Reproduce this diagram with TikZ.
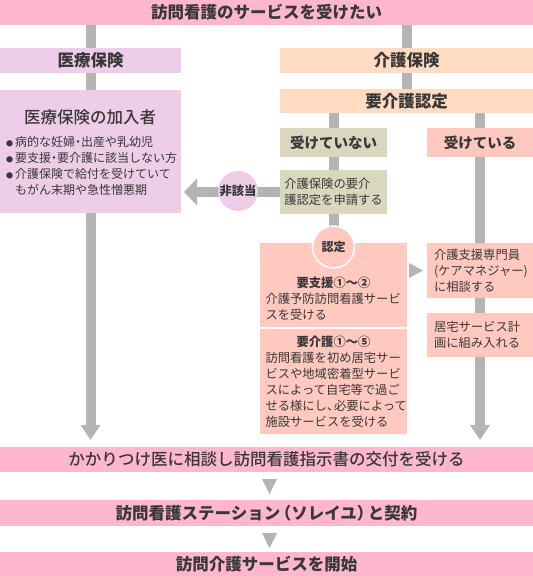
\documentclass[tikz,border=0pt]{standalone}
\usepackage{fontspec}
\setmainfont{Noto Sans CJK JP}
\newfontfamily\medfont{Noto Sans CJK JP Medium}
\usetikzlibrary{arrows.meta}

\definecolor{barpink}{HTML}{FFB7CD}
\definecolor{iryopink}{HTML}{EDCDE8}
\definecolor{kaigopeach}{HTML}{FFDBC1}
\definecolor{nashikhaki}{HTML}{DAD7BF}
\definecolor{arisalmon}{HTML}{FFC9BF}
\definecolor{linegray}{HTML}{B4B4B4}
\definecolor{textgray}{HTML}{383838}

\newcommand{\hfont}{\fontsize{16.5}{20}\selectfont}
\newcommand{\mfont}{\fontsize{14.5}{18}\selectfont}
\newcommand{\sfont}{\fontsize{12.3}{16}\selectfont}
\newcommand{\ndot}{\makebox[6pt][c]{・}}

\begin{document}
\begin{tikzpicture}[x=1pt, y=-1pt, text=textgray,
    bar/.style={fill=barpink, minimum width=533pt, minimum height=25pt, inner sep=0pt, outer sep=0pt},
    box/.style={inner sep=0pt, outer sep=0pt},
    hd/.style={font=\hfont\bfseries},
    txt/.style={font=\sfont, align=left, inner sep=0pt},
    conn/.style={draw=linegray, line width=10pt},
    downtip/.style={-{Triangle[width=19pt,length=15pt]}, shorten >=7pt}]
    \useasboundingbox (0,0) rectangle (533,576);

    % top
    \node[bar, hd] (want) at (266.5,12.5) {訪問看護のサービスを受けたい};
    \node[box, hd, fill=iryopink, minimum width=181pt, minimum height=25pt] (iryo) at (90.5,60.5) {医療保険};
    \node[box, hd, fill=kaigopeach, minimum width=253pt, minimum height=25pt] (kaigo) at (406.5,60.5) {介護保険};
    \node[box, hd, fill=kaigopeach, minimum width=253pt, minimum height=24pt] (nintei) at (406.5,101) {要介護認定};

    % iryo side
    \node[box, fill=iryopink, minimum width=181pt, minimum height=123pt] (kanyu) at (90.5,151.5) {};
    \node[box, font=\hfont\medfont] (kanyutitle) at (90,117) {医療保険の加入者};
    \node[txt, anchor=west, font=\fontsize{12}{16}\selectfont] (kanyulist) at (4,166) {%
        \makebox[11pt][c]{\fontsize{7}{7}\selectfont ●}病的な妊婦\ndot 出産や乳幼児\\
        \makebox[11pt][c]{\fontsize{7}{7}\selectfont ●}要支援\ndot 要介護に該当しない方\\
        \makebox[11pt][c]{\fontsize{7}{7}\selectfont ●}介護保険で給付を受けていて\\
        \hspace*{11pt}もがん末期や急性憎悪期};

    % kaigo side
    \node[box, font=\mfont\bfseries, fill=nashikhaki, minimum width=107pt, minimum height=29pt] (nashi) at (333.5,142.5) {受けていない};
    \node[box, font=\mfont\bfseries, fill=arisalmon, minimum width=106pt, minimum height=29pt] (ari) at (480,142.5) {受けている};
    \node[box, txt, fill=nashikhaki, minimum width=107pt, minimum height=44pt] (shinsei) at (333.5,192) {介護保険の要介\\護認定を申請する};

    \node[box, fill=arisalmon, minimum width=147pt, minimum height=84pt] (shien) at (333.5,285) {};
    \node[txt, text width=136pt] (shientxt) at (333.5,299) {%
        \makebox[136pt][c]{\bfseries 要支援①〜②}\\
        介護予防訪問看護サービ\\
        スを受ける};
    \node[box, txt, fill=arisalmon, minimum width=147pt, minimum height=105pt, text width=136pt] (kaigobox) at (333.5,381.5) {%
        \makebox[136pt][c]{\bfseries 要介護①〜⑤}\\
        訪問看護を初め居宅サー\\
        ビスや地域密着型サービ\\
        スによって自宅等で過ご\\
        せる様にし\makebox[7pt][l]{、}必要によって\\
        施設サービスを受ける};

    \node[box, txt, fill=arisalmon, minimum width=106pt, minimum height=55pt, text width=92pt] (cm) at (480,270.5) {介護支援専門員\\(ケアマネジャー)\\に相談する};
    \node[box, txt, fill=arisalmon, minimum width=106pt, minimum height=44pt, text width=92pt] (keikaku) at (480,335) {居宅サービス計\\画に組み入れる};

    % bottom
    \node[bar, font=\hfont\medfont] (kakari) at (266.5,459.5) {かかりつけ医に相談し訪問看護指示書の交付を受ける};
    \node[bar, hd, minimum height=26pt] (station) at (266.5,513) {訪問看護ステーション\makebox[11pt][r]{（}ソレイユ\makebox[11pt][l]{）}と契約};
    \node[bar, hd, minimum height=24pt] (start) at (266.5,564) {訪問介護サービスを開始};

    % connectors
    \draw[conn] (want.south -| iryo.north) -- (iryo.north);
    \draw[conn] (want.south -| kaigo.north) -- (kaigo.north);
    \draw[conn] (iryo.south) -- (kanyu.north);
    \draw[conn] (kaigo.south) -- (nintei.north);
    \draw[conn] (nintei.south -| nashi.north) -- (nashi.north);
    \draw[conn] (nintei.south -| ari.north) -- (ari.north);
    \draw[conn] (nashi.south) -- (shinsei.north);
    \draw[conn] (shinsei.south) -- (shien.north);
    \draw[conn, -{Triangle[width=26pt,length=13pt]}, shorten >=3pt] (shinsei.west) -- (kanyu.east |- shinsei.west);
    \draw[conn, downtip] (kanyu.south) -- (kanyu.south |- kakari.north);
    \draw[conn] (ari.south) -- (cm.north);
    \draw[conn] (cm.south) -- (keikaku.north);
    \draw[conn, downtip] (keikaku.south) -- (keikaku.south |- kakari.north);

    \node[circle, fill=iryopink, minimum size=40pt, inner sep=0pt, font=\fontsize{12.3}{14}\selectfont\bfseries] (higaito) at (238,191) {非該当};
    \node[circle, fill=arisalmon, draw=white, line width=1.5pt, minimum size=42pt, inner sep=0pt, font=\fontsize{12}{14}\selectfont\bfseries] (ninteimaru) at (333.5,247) {認定};

    \fill[linegray] ([xshift=-4pt]cm.west) -- ++(-14,-7.5) -- ++(0,15) -- cycle;
    \fill[linegray] ([shift={(-4.5,7)}]kakari.south) -- ++(15,0) -- ++(-7.5,15) -- cycle;
    \fill[linegray] ([shift={(-4.5,7)}]station.south) -- ++(15,0) -- ++(-7.5,15) -- cycle;
\end{tikzpicture}
\end{document}
